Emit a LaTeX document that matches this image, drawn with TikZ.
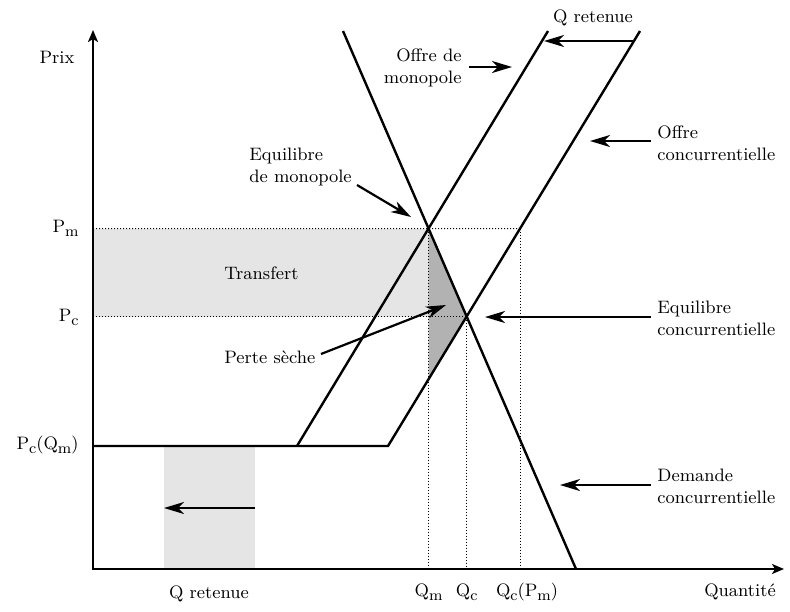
\documentclass[tikz,border=0pt]{standalone}
\usetikzlibrary{arrows.meta}
\newcommand{\lowsub}[1]{\raisebox{-0.55ex}{\fontsize{7.6}{8}\selectfont #1}}
\begin{document}
\begin{tikzpicture}[x=0.5pt,y=-0.5pt,
  every node/.style={font=\fontsize{9}{11}\selectfont, inner sep=0pt},
  curve/.style={line width=1.2pt},
  axisline/.style={line width=1pt},
  guide/.style={line width=0.5pt, dash pattern=on 0.5pt off 1pt},
  pointer/.style={line width=1.1pt,-{Stealth[length=10pt,width=6pt,inset=3pt]}},
  lightfill/.style={fill=black!10},
  darkfill/.style={fill=black!30},
  txt/.style={align=left}
]
\useasboundingbox (0,0) rectangle (790,611);
% key points
\coordinate (O) at (93,569);
\coordinate (ytop) at (93,30);
\coordinate (xend) at (784,569);
\coordinate (D1) at (343,31);
\coordinate (D2) at (576,569);
\coordinate (M1) at (297,446);
\coordinate (M2) at (548,31);
\coordinate (C1) at (388,446);
\coordinate (C2) at (640,31);
\coordinate (Em) at (intersection of D1--D2 and M1--M2);
\coordinate (Ec) at (intersection of D1--D2 and C1--C2);
\coordinate (PmAx) at (O |- Em);
\coordinate (PcAx) at (O |- Ec);
\coordinate (QmAx) at (Em |- O);
\coordinate (QcAx) at (Ec |- O);
\coordinate (QcPm) at (intersection of PmAx--Em and C1--C2);
\coordinate (QcPmAx) at (QcPm |- O);
\coordinate (Tlow) at (intersection of Em--QmAx and C1--C2);
\coordinate (Hleft) at (O |- C1);
% fills
\fill[lightfill] (PmAx) rectangle (Em |- PcAx);
\fill[darkfill] (Em) -- (Ec) -- (Tlow) -- cycle;
\fill[lightfill] (164,446) rectangle (255,569);
% guides
\draw[guide] (PmAx) -- (QcPm);
\draw[guide] (PcAx) -- (Ec);
\draw[guide] (Em) -- (QmAx);
\draw[guide] (Ec) -- (QcAx);
\draw[guide] (QcPm) -- (QcPmAx);
% curves
\draw[curve] (D1) -- (D2);
\draw[curve] (M1) -- (M2);
\draw[curve] (Hleft) -- (C1) -- (C2);
% axes
\draw[axisline, {Stealth[length=6pt,width=5pt,inset=1.5pt]}-{Stealth[length=6pt,width=5pt,inset=1.5pt]}] (ytop) -- (O) -- (xend);
% axis labels
\node (prix) at (57,57) {Prix};
\node[anchor=base east] (pm) at (79,232) {P\lowsub{m}};
\node[anchor=base east] (pc) at (79,321) {P\lowsub{c}};
\node[anchor=base east] (pcqm) at (79,449) {P\lowsub{c}(Q\lowsub{m})};
\node[anchor=base] (qm) at (QmAx |- 0,596) {Q\lowsub{m}};
\node[anchor=base] (qc) at (QcAx |- 0,596) {Q\lowsub{c}};
\node[anchor=base] (qcpm) at (527,596) {Q\lowsub{c}(P\lowsub{m})};
\node[anchor=base] (quant) at (740,596) {Quantité};
\node[anchor=base] (qretb) at (209,598) {Q retenue};
\node[anchor=base] (qrett) at (593,22) {Q retenue};
% annotations
\node[txt, anchor=west] (transfert) at (224,273) {Transfert};
\node[txt, anchor=west] (perte) at (224,357) {Perte sèche};
\node[align=right, anchor=east] (offm) at (462,68) {Offre de\\monopole};
\node[txt, anchor=west] (offc) at (657,143) {Offre\\concurrentielle};
\node[txt, anchor=west] (eqm) at (249,167) {Equilibre\\de monopole};
\node[txt, anchor=west] (eqc) at (657,318) {Equilibre\\concurrentielle};
\node[txt, anchor=west] (dem) at (657,486) {Demande\\concurrentielle};
% pointer ends
\coordinate (qrR) at (633,41);
\coordinate (qrL) at (544,41);
\coordinate (offmS) at (469,67);
\coordinate (offmT) at (512,67);
\coordinate (offcS) at (651,141);
\coordinate (offcT) at (590,141);
\coordinate (eqmS) at (357,185);
\coordinate (eqmT) at (411,217);
\coordinate (perteS) at (321,354);
\coordinate (perteT) at (446,305);
\coordinate (eqcS) at (651,317);
\coordinate (eqcT) at (485,317);
\coordinate (demS) at (651,485);
\coordinate (demT) at (560,485);
\coordinate (qrbS) at (255,508);
\coordinate (qrbT) at (164,508);
\draw[pointer] (qrR) -- (qrL);
\draw[pointer] (offmS) -- (offmT);
\draw[pointer] (offcS) -- (offcT);
\draw[pointer] (eqmS) -- (eqmT);
\draw[pointer] (perteS) -- (perteT);
\draw[pointer] (eqcS) -- (eqcT);
\draw[pointer] (demS) -- (demT);
\draw[pointer] (qrbS) -- (qrbT);
\end{tikzpicture}
\end{document}
